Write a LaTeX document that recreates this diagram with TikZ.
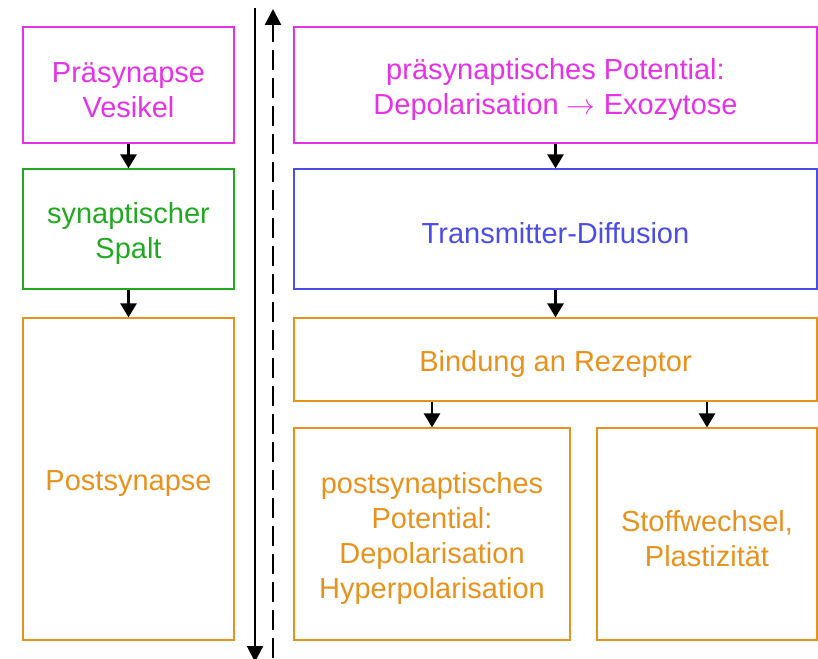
\documentclass[tikz,border=0pt]{standalone}
\usepackage{fontspec}
\setmainfont{Liberation Sans}
\usepackage{tikz}
\usetikzlibrary{arrows.meta,positioning,calc}
\definecolor{mag}{HTML}{E632E6}
\definecolor{grn}{HTML}{22A922}
\definecolor{blu}{HTML}{4C4CE6}
\definecolor{org}{HTML}{E8921E}
\newcommand{\topstrut}{\rule{0pt}{15pt}}
\tikzset{box/.style={draw=#1, text=#1, line width=0.6pt, rectangle, inner sep=0pt, align=center,
           font=\fontsize{14.5}{17.5}\selectfont},
         flow/.style={line width=1.3pt, -{Triangle[width=8pt,length=7pt]}}}

\begin{document}
\begin{tikzpicture}[x=0.5pt,y=-0.5pt]
\useasboundingbox (0,0) rectangle (818,658);

% left column
\node[box=mag, minimum width=105.5pt, minimum height=58pt] (pre) at (128.5,85) {\topstrut Präsynapse\\Vesikel};
\node[box=grn, minimum width=105.5pt, minimum height=60pt] (spalt) at (128.5,229) {\topstrut synaptischer\\Spalt};
\node[box=org, minimum width=105.5pt, minimum height=161pt] (post) at (128.5,479) {\topstrut Postsynapse};

% right column
\node[box=mag, minimum width=261.5pt, minimum height=58pt] (prepot) at (555.5,85) {\topstrut präsynaptisches Potential:\\Depolarisation $\rightarrow$ Exozytose};
\node[box=blu, minimum width=261.5pt, minimum height=60pt] (diff) at (555.5,229) {\topstrut Transmitter-Diffusion};
\node[box=org, minimum width=261.5pt, minimum height=41.5pt] (bind) at (555.5,359.5) {\topstrut Bindung an Rezeptor};
\node[box=org, minimum width=138pt, minimum height=106pt] (postpot) at (432,534) {\topstrut postsynaptisches\\Potential:\\Depolarisation\\Hyperpolarisation};
\node[box=org, minimum width=110pt, minimum height=106pt] (stoff) at (707,534) {\topstrut Stoffwechsel,\\Plastizität};

\draw[flow] (pre) -- (spalt);
\draw[flow] (spalt) -- (post);
\draw[flow] (prepot) -- (diff);
\draw[flow] (diff) -- (bind);
\draw[flow] (postpot.north |- bind.south) -- (postpot.north);
\draw[flow] (stoff.north |- bind.south) -- (stoff.north);

% time axes
\coordinate (downtop) at (255,8);
\coordinate (downbot) at (255,662);
\coordinate (upbot) at (273,658);
\coordinate (uptop) at (273,9);
\draw[line width=1pt, -{Triangle[width=8pt,length=8pt]}] (downtop) -- (downbot);
\draw[line width=1.2pt, dash pattern=on 10pt off 4pt, -{Triangle[width=8pt,length=8pt]}] (upbot) -- (uptop);

\end{tikzpicture}
\end{document}
